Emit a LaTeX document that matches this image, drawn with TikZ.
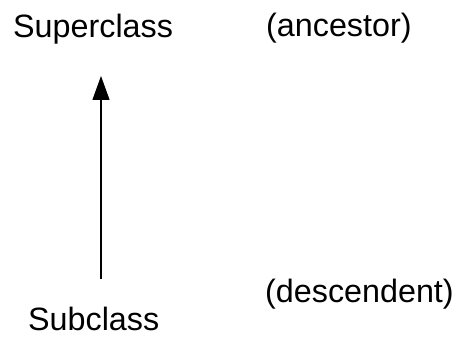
\documentclass[tikz,border=0pt]{standalone}
\usepackage{fontspec}
\setmainfont{Liberation Sans}
\usetikzlibrary{arrows.meta}
\begin{document}
\begin{tikzpicture}[x=1pt,y=1pt,
  lbl/.style={anchor=base west,inner sep=0pt,font=\fontsize{32.3}{38}\selectfont},
  inherit/.style={line width=1.3pt,-{Triangle[length=24pt,width=17pt]}}]
\useasboundingbox (0,0) rectangle (457,337);
\node[lbl] (super) at (13,299) {Superclass};
\node[lbl] (anc) at (266,300) {(ancestor)};
\node[lbl] (sub) at (28,7) {Subclass};
\node[lbl] (desc) at (265,35) {(descendent)};
\coordinate (tail) at (101,58);
\coordinate (tip) at (101,261);
\draw[inherit] (tail) -- (tip);
\end{tikzpicture}
\end{document}
